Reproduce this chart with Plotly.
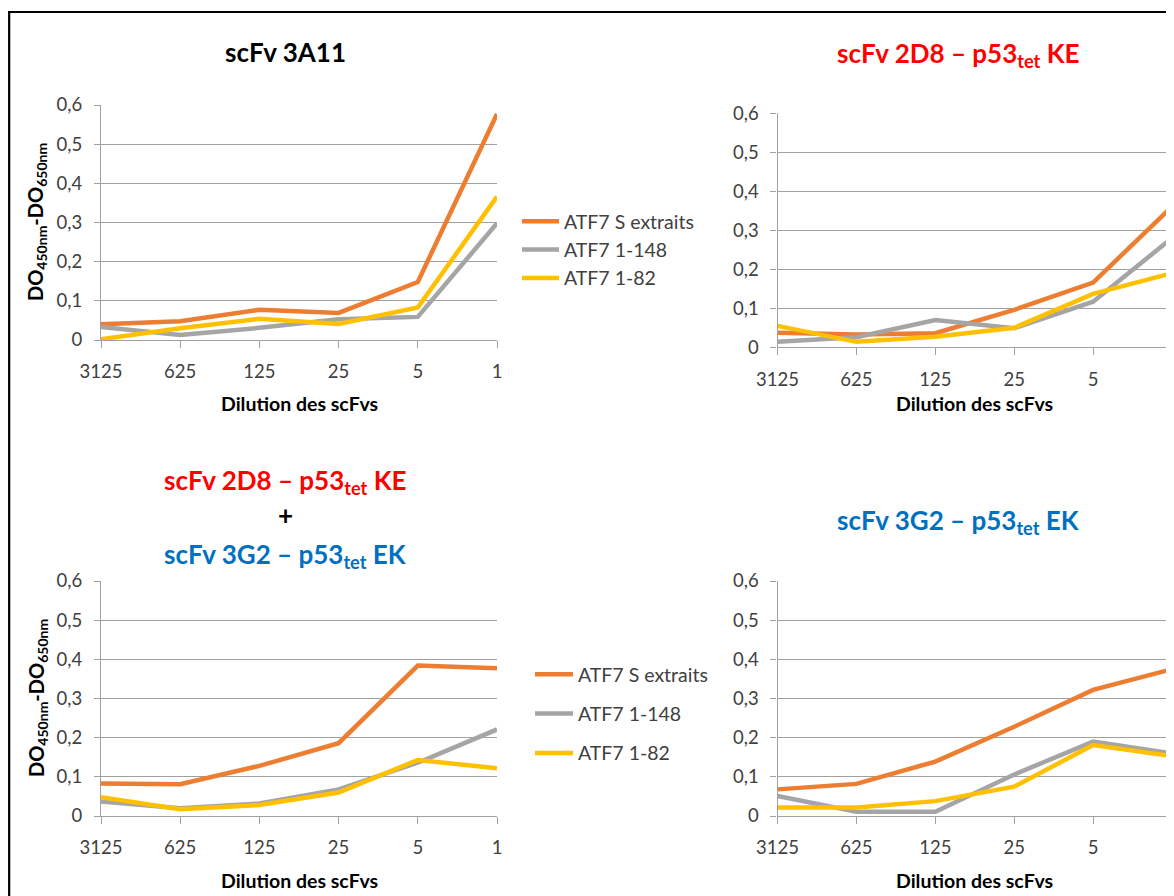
import plotly.graph_objects as go

# page is rendered with an 8px body margin; figure covers page pixels 8..1174 x 8..896
OFF = 8
FW, FH = 1174 - OFF, 896 - OFF

dilutions = ["3125", "625", "125", "25", "5", "1"]
series_names = ["ATF7 S extraits", "ATF7 1-148", "ATF7 1-82"]
series_colors = ["#ED7D31", "#A5A5A5", "#FFC000"]
y_tickvals = [0, 0.1, 0.2, 0.3, 0.4, 0.5, 0.6]
y_ticktext = ["0", "0,1", "0,2", "0,3", "0,4", "0,5", "0,6"]

# Panel 1: scFv 3A11
p1_extraits = [0.040, 0.048, 0.077, 0.069, 0.148, 0.577]
p1_148 = [0.033, 0.013, 0.031, 0.053, 0.059, 0.298]
p1_82 = [0.002, 0.030, 0.054, 0.041, 0.083, 0.366]

# Panel 2: scFv 2D8 - p53tet KE
p2_extraits = [0.037, 0.033, 0.036, 0.096, 0.166, 0.361]
p2_148 = [0.014, 0.026, 0.070, 0.049, 0.117, 0.280]
p2_82 = [0.055, 0.014, 0.027, 0.050, 0.137, 0.190]

# Panel 3: 2D8 + 3G2
p3_extraits = [0.083, 0.081, 0.128, 0.186, 0.384, 0.377]
p3_148 = [0.037, 0.020, 0.032, 0.068, 0.136, 0.221]
p3_82 = [0.048, 0.017, 0.028, 0.060, 0.143, 0.122]

# Panel 4: scFv 3G2 - p53tet EK
p4_extraits = [0.068, 0.082, 0.139, 0.228, 0.322, 0.375]
p4_148 = [0.051, 0.011, 0.011, 0.106, 0.190, 0.160]
p4_82 = [0.022, 0.022, 0.038, 0.075, 0.181, 0.153]

panels = [
    ([p1_extraits, p1_148, p1_82], None),
    ([p2_extraits, p2_148, p2_82], "legend"),
    ([p3_extraits, p3_148, p3_82], None),
    ([p4_extraits, p4_148, p4_82], "legend2"),
]

FONT = "Lato"
GRID = "#A0A0A0"


def px(x, y):
    return (x - OFF) / FW, 1 - (y - OFF) / FH


# plot-area page-pixel boxes (left, top, right, bottom) and x-title rows
boxes = [
    (101, 105, 497, 340),
    (777.5, 113.3, 1172, 347.3),
    (101, 581, 497, 816),
    (777.5, 581, 1172, 816),
]
xtitle_rows = [403, 403, 880, 880]

fig = go.Figure()

for i, (vals, leg) in enumerate(panels):
    xa = "x" if i == 0 else f"x{i+1}"
    ya = "y" if i == 0 else f"y{i+1}"
    for k, v in enumerate(vals):
        fig.add_trace(go.Scatter(
            x=dilutions, y=v, mode="lines", name=series_names[k],
            line=dict(color=series_colors[k], width=4.5),
            xaxis=xa, yaxis=ya,
            showlegend=leg is not None,
            legend=leg if leg else "legend",
            legendgroup=f"g{i}_{k}",
        ))

layout = dict(
    width=FW, height=FH, autosize=False,
    margin=dict(l=0, r=0, t=0, b=0, autoexpand=False),
    paper_bgcolor="white", plot_bgcolor="white",
    font=dict(family=FONT, size=18, color="#404040"),
)

for i, (l, t, r, b) in enumerate(boxes):
    xn = "xaxis" if i == 0 else f"xaxis{i+1}"
    yn = "yaxis" if i == 0 else f"yaxis{i+1}"
    ya = "y" if i == 0 else f"y{i+1}"
    xa = "x" if i == 0 else f"x{i+1}"
    x0, y0 = px(l, b)
    x1, y1 = px(r, t)
    layout[xn] = dict(
        domain=[x0, min(x1, 1)], anchor=ya, type="category", automargin=False,
        range=[0, 5], showgrid=False, showline=True, linecolor=GRID,
        linewidth=1.3, ticks="outside", ticklen=7, tickcolor=GRID,
        tickfont=dict(family=FONT, size=18.5, color="#404040"),
        ticklabelstandoff=8, zeroline=False, fixedrange=True,
    )
    layout[yn] = dict(
        domain=[y0, y1], anchor=xa, range=[0, 0.6], automargin=False,
        tickvals=y_tickvals, ticktext=y_ticktext, showgrid=True,
        gridcolor=GRID, gridwidth=1.3, showline=True, linecolor=GRID,
        linewidth=1.3, ticks="outside", ticklen=6, tickcolor=GRID,
        tickfont=dict(family=FONT, size=18.5, color="#404040"),
        ticklabelstandoff=8, zeroline=False, fixedrange=True,
    )

lx1, ly1 = px(517, 202)
lx2, ly2 = px(530, 655)
layout["legend"] = dict(
    x=lx1, y=ly1, xanchor="left", yanchor="top", itemwidth=37,
    font=dict(family=FONT, size=19.5, color="#404040"),
    bgcolor="rgba(0,0,0,0)", tracegroupgap=0, traceorder="normal",
)
layout["legend2"] = dict(
    x=lx2, y=ly2, xanchor="left", yanchor="top", itemwidth=38,
    font=dict(family=FONT, size=19.5, color="#404040"),
    bgcolor="rgba(0,0,0,0)", tracegroupgap=11, traceorder="grouped",
)

fig.update_layout(**layout)

anns = []


def ann(text, x, y, color="#000000", size=26, angle=0, bold=True):
    ax, ay = px(x, y)
    anns.append(dict(
        text=f"<b>{text}</b>" if bold else text, x=ax, y=ay, xref="paper", yref="paper",
        showarrow=False, xanchor="center", yanchor="middle", textangle=angle,
        font=dict(family=FONT, size=size, color=color),
    ))


ann("scFv 3A11", 285, 52)
ann("scFv 2D8 – p53<sub>tet</sub> KE", 958, 54, color="#FF0000")
ann("scFv 2D8 – p53<sub>tet</sub> KE", 285, 481, color="#FF0000")
ann("+", 285, 515)
ann("scFv 3G2 – p53<sub>tet</sub> EK", 285, 555, color="#0070C0")
ann("scFv 3G2 – p53<sub>tet</sub> EK", 958, 521, color="#0070C0")

for (l, t, r, b), yt in zip(boxes, xtitle_rows):
    ann("Dilution des scFvs", (l + r) / 2, yt, size=19.5)

ann("DO<sub>450nm</sub>-DO<sub>650nm</sub>", 37, 222, size=20, angle=-90)
ann("DO<sub>450nm</sub>-DO<sub>650nm</sub>", 37, 698, size=20, angle=-90)

fig.update_layout(annotations=anns)

bx, by = px(8, 12)
fig.add_shape(type="line", xref="paper", yref="paper",
              x0=bx + 0.001, y0=0, x1=bx + 0.001, y1=by,
              line=dict(color="#000000", width=2.2))
fig.add_shape(type="line", xref="paper", yref="paper",
              x0=bx, y0=by, x1=1, y1=by,
              line=dict(color="#000000", width=2.2))

fig.write_html("out.html")
